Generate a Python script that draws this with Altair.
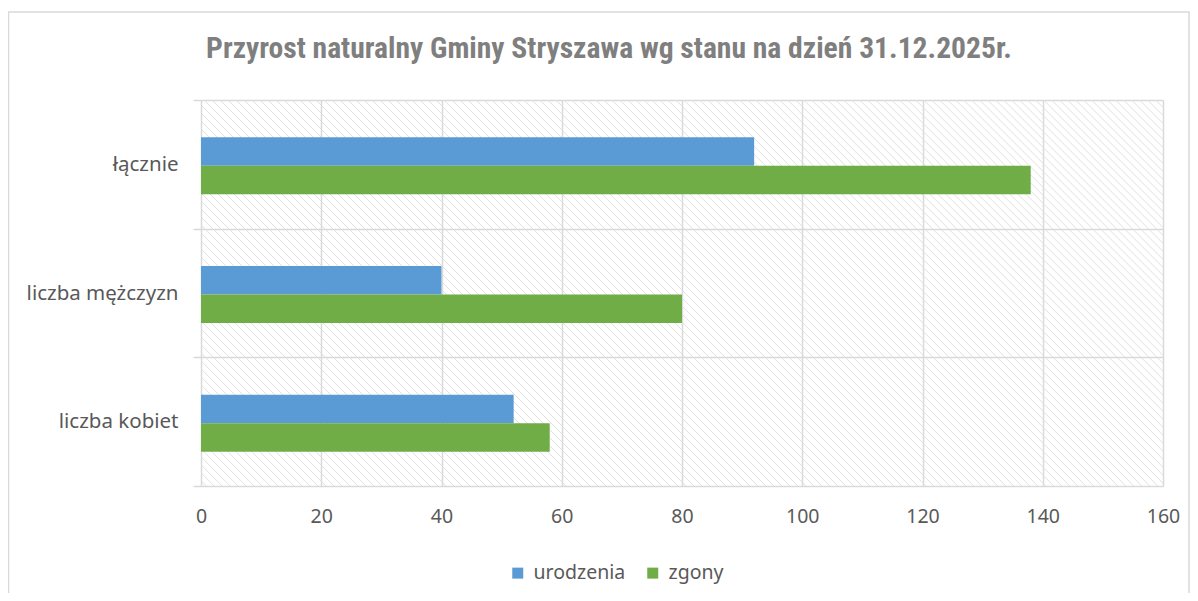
import altair as alt
import pandas as pd

categories = ["łącznie", "liczba mężczyzn", "liczba kobiet"]
series = ["urodzenia", "zgony"]
urodzenia = [92, 40, 52]
zgony = [138, 80, 58]
x_ticks = [0, 20, 40, 60, 80, 100, 120, 140, 160]
colors = ["#5B9BD5", "#70AD47"]
title_text = "Przyrost naturalny Gminy Stryszawa wg stanu na dzień 31.12.2025r."

rows = []
for c, u, z in zip(categories, urodzenia, zgony):
    rows.append({"category": c, "series": series[0], "value": u})
    rows.append({"category": c, "series": series[1], "value": z})
df = pd.DataFrame(rows)

W, H = 962, 386
PX_PER_UNIT = W / 160.0
HATCH_SHIFT = H / PX_PER_UNIT
STEP = H / 3.0
BAR_GROUP = 57.0
LABEL_FONT = "Noto Sans"
GRID = "#d9d9d9"
TEXT = "#595959"

hatch = (
    alt.Chart(alt.sequence(-66, 161, 1.33, as_="a"))
    .transform_calculate(b=f"datum.a + {HATCH_SHIFT}")
    .mark_rule(clip=True, stroke="#e0e0e0", strokeWidth=1)
    .encode(
        x=alt.X("a:Q"),
        x2="b:Q",
        y=alt.value(0),
        y2=alt.value(H),
    )
)

bars = (
    alt.Chart(df)
    .mark_bar()
    .encode(
        x=alt.X(
            "value:Q",
            scale=alt.Scale(domain=[0, 160], nice=False),
            axis=alt.Axis(
                values=x_ticks, grid=True, gridColor=GRID, gridWidth=1.5,
                ticks=False, tickSize=0, domain=False, labelFontSize=19.5,
                labelColor=TEXT, labelFont=LABEL_FONT, labelPadding=21,
                labelFlush=False, title=None,
            ),
        ),
        y=alt.Y(
            "category:N",
            sort=categories,
            scale=alt.Scale(paddingInner=0, paddingOuter=0),
            axis=alt.Axis(
                grid=True, tickBand="extent", gridColor=GRID, gridWidth=1.5,
                ticks=True, tickSize=8, tickColor=GRID, tickWidth=1.5,
                domain=False, labelFontSize=20.5, labelColor=TEXT,
                labelFont=LABEL_FONT, labelPadding=15, title=None,
            ),
        ),
        yOffset=alt.YOffset(
            "series:N", sort=series,
            scale=alt.Scale(
                paddingInner=0, paddingOuter=0,
                range=[(STEP - BAR_GROUP) / 2 + 1.5, (STEP + BAR_GROUP) / 2 + 1.5],
            ),
        ),
        color=alt.Color(
            "series:N",
            scale=alt.Scale(domain=series, range=colors),
            legend=alt.Legend(
                title=None, orient="none", legendX=307, legendY=463,
                direction="horizontal", symbolType="square", symbolSize=121,
                symbolStrokeWidth=0, labelFontSize=19.5, labelColor=TEXT,
                labelFont=LABEL_FONT, columnPadding=17, labelOffset=6,
            ),
        ),
    )
)

one = alt.Data(values=[{"k": 1}])

title = (
    alt.Chart(one)
    .mark_text(
        text=title_text, fontSize=29.6, fontWeight="bold", color="#7f7f7f",
        font="Liberation Sans Narrow, Roboto Condensed, DejaVu Sans Condensed, sans-serif",
        align="center", baseline="alphabetic",
    )
    .encode(x=alt.value(408), y=alt.value(-42))
)

border = (
    alt.Chart(one)
    .mark_rect(fillOpacity=0, stroke=GRID, strokeWidth=1.5)
    .encode(
        x=alt.value(-192.5), x2=alt.value(988), y=alt.value(-88), y2=alt.value(600)
    )
)

chart = (
    alt.layer(hatch, bars, title, border)
    .properties(
        width=W, height=H,
        padding={"left": 193, "top": 92, "right": 27, "bottom": 107},
        autosize=alt.AutoSizeParams(type="none"),
    )
    .configure_view(stroke=None)
)

chart.save("out.html", embed_options={"renderer": "svg", "actions": False})
